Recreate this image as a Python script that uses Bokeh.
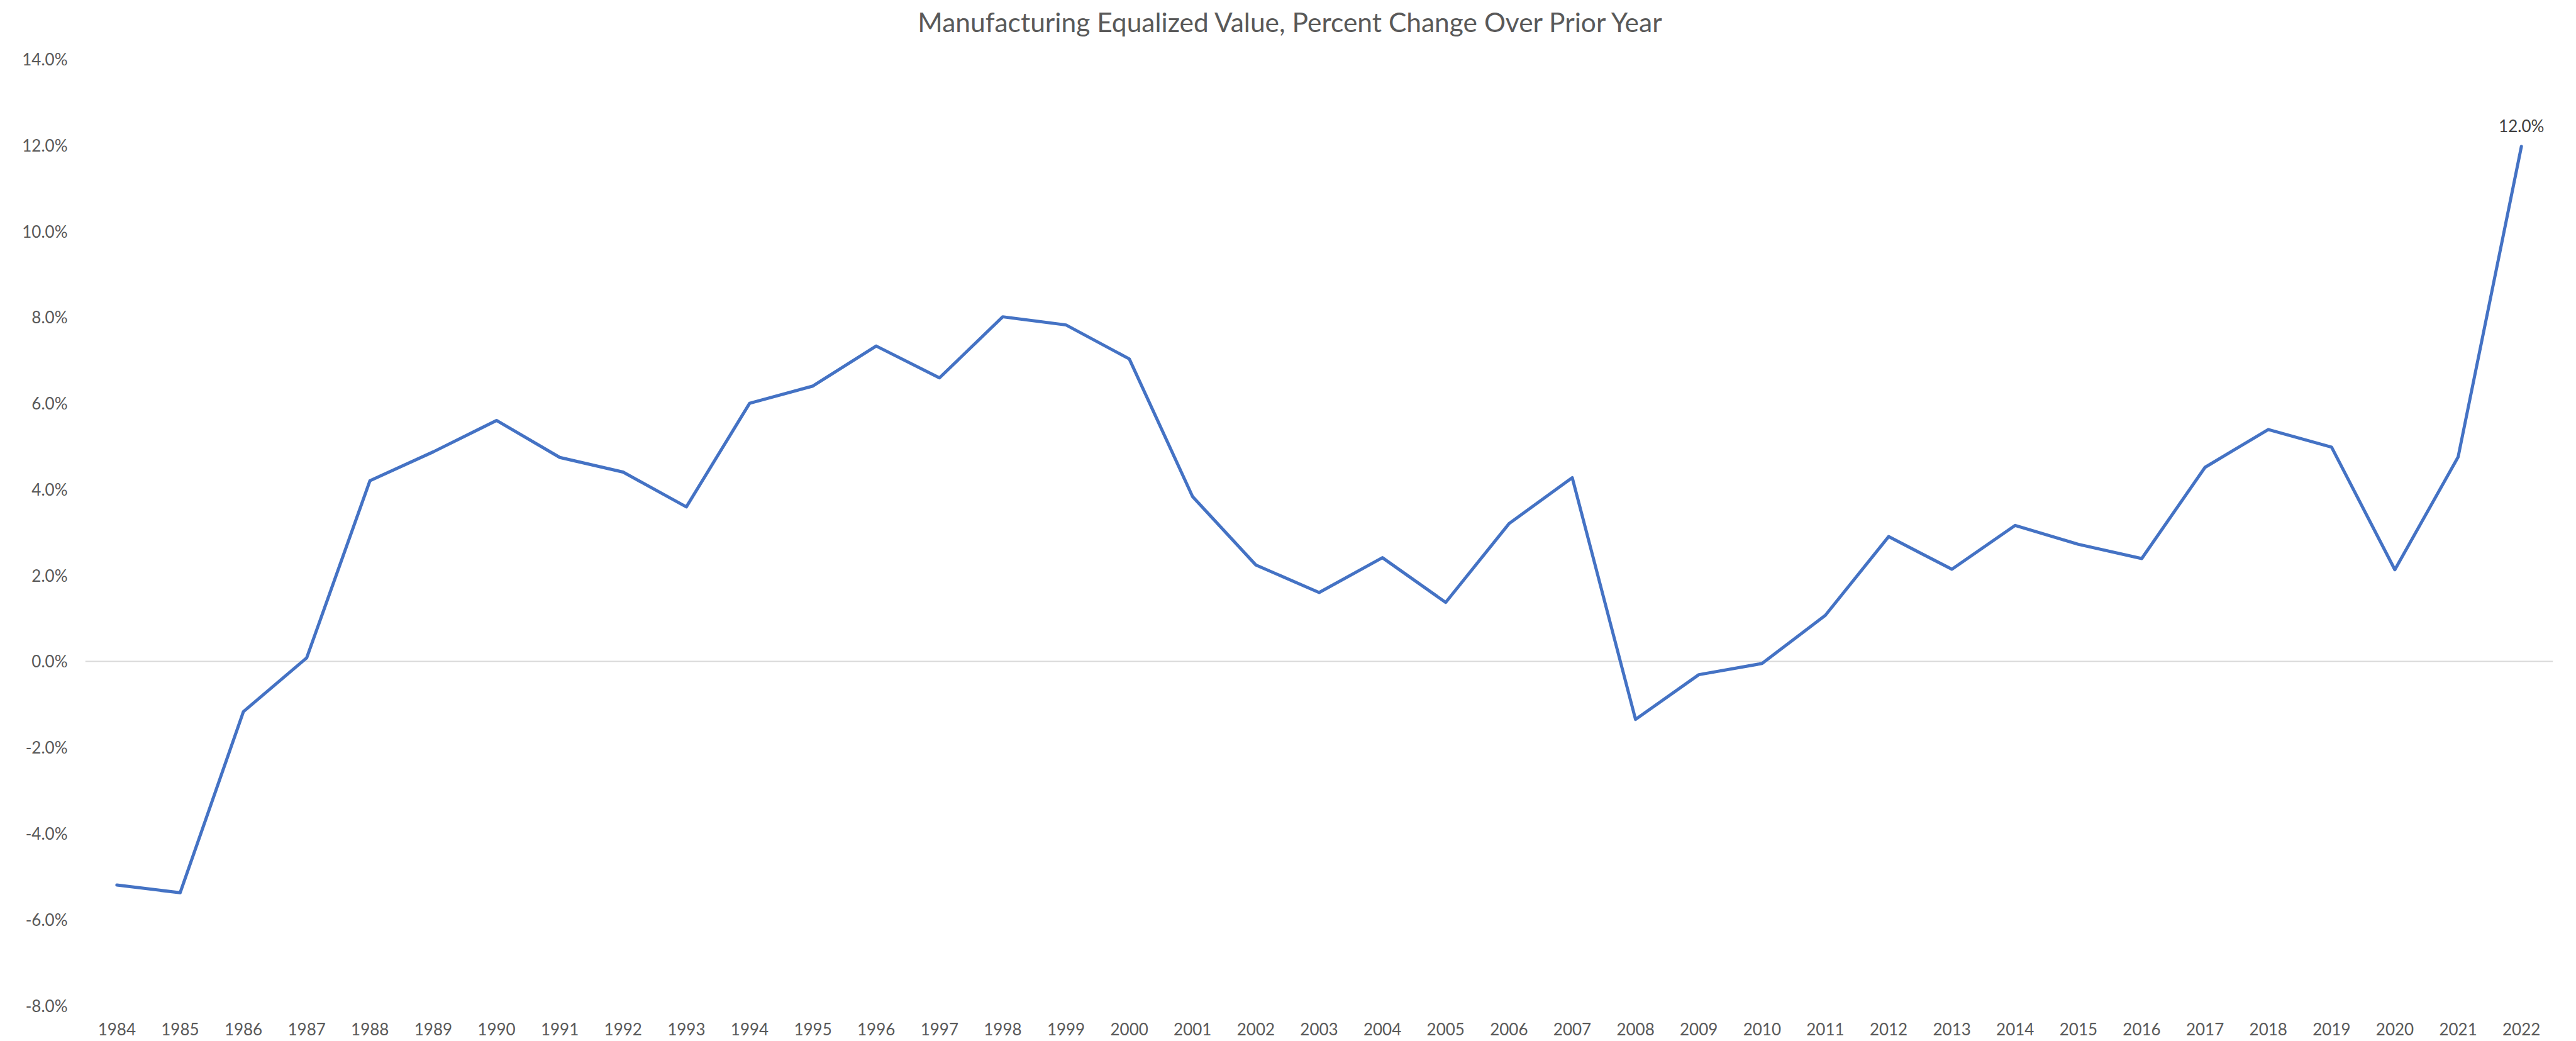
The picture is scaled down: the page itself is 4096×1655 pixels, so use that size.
from bokeh.plotting import figure
from bokeh.models import Range1d, FixedTicker, Span, Label, LabelSet, ColumnDataSource, PrintfTickFormatter
from bokeh.core.properties import value
from bokeh.embed import file_html
from bokeh.resources import INLINE

title_text = "Manufacturing Equalized Value, Percent Change Over Prior Year"

years = list(range(1984, 2023))
pct_change = [
    -5.20, -5.38, -1.17, 0.08, 4.20, 4.87, 5.60, 4.74, 4.40, 3.59,
    6.00, 6.40, 7.33, 6.59, 8.01, 7.82, 7.03, 3.83, 2.24, 1.60,
    2.41, 1.37, 3.20, 4.27, -1.35, -0.31, -0.05, 1.07, 2.90, 2.14,
    3.16, 2.72, 2.39, 4.51, 5.39, 4.98, 2.13, 4.75, 11.97,
]
y_ticks = [-8, -6, -4, -2, 0, 2, 4, 6, 8, 10, 12, 14]
y_min, y_max = -8, 14
x_min, x_max = years[0] - 0.5, years[-1] + 0.5

FONT = "Lato"
GREY = "#595959"

# layout (pixels)
FIG_W, FIG_H = 4094, 1653
LEFT, RIGHT = 135, 35
TOP_PAD, BOTTOM_PAD = 93.5, 55          # plot area inset inside the frame
ppu = (FIG_H - TOP_PAD - BOTTOM_PAD) / (y_max - y_min)

p = figure(
    width=FIG_W, height=FIG_H,
    x_range=Range1d(x_min, x_max),
    y_range=Range1d(y_min - BOTTOM_PAD / ppu, y_max + TOP_PAD / ppu),
    output_backend="svg", toolbar_location=None,
    min_border_left=LEFT, min_border_right=RIGHT,
    min_border_top=0, min_border_bottom=0,
)
p.outline_line_color = None
p.background_fill_color = "white"
p.border_fill_color = "white"
p.xgrid.visible = False
p.ygrid.visible = False
p.xaxis.visible = False

# Y axis
ya = p.yaxis[0]
ya.ticker = FixedTicker(ticks=y_ticks)
ya.formatter = PrintfTickFormatter(format="%.1f%%")
ya.axis_line_color = None
ya.major_tick_line_color = None
ya.minor_tick_line_color = None
ya.major_tick_in = 0
ya.major_tick_out = 0
ya.major_label_standoff = 28
ya.major_label_text_font = FONT
ya.major_label_text_font_size = "26px"
ya.major_label_text_color = GREY

# Category (year) labels under the plot area
xlab_src = ColumnDataSource(dict(
    x=years, y=[y_min] * len(years), text=[str(y) for y in years]
))
xlabels = LabelSet(
    x="x", y="y", text="text", source=xlab_src,
    text_align="center", text_baseline="alphabetic", y_offset=-47.5,
    text_font=value(FONT), text_font_size=value("26px"), text_color=GREY,
)
p.add_layout(xlabels)

# Title
title = Label(
    x=(x_min + x_max) / 2, y=y_max, text=title_text,
    x_offset=-44, y_offset=60,
    text_align="center", text_baseline="alphabetic",
    text_font=FONT, text_font_size="42.5px", text_color=GREY,
)
p.add_layout(title)

# Zero axis line
zero = Span(location=0, dimension="width", line_color="#D9D9D9", line_width=2, level="underlay")
p.add_layout(zero)

# Series line
p.line(years, pct_change, line_color="#4472C4", line_width=5, line_join="round", line_cap="round")

# Data label on last point
last = Label(
    x=years[-1], y=pct_change[-1], text=f"{pct_change[-1]:.1f}%",
    text_align="center", text_baseline="alphabetic", y_offset=33,
    text_font=FONT, text_font_size="26px", text_color="#404040",
)
p.add_layout(last)

open("out.html", "w").write(file_html(p, INLINE))
